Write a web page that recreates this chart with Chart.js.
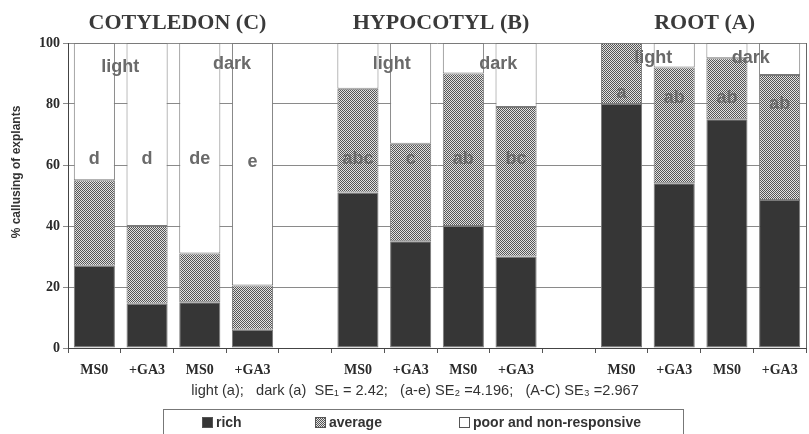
<!DOCTYPE html>
<html>
<head>
<meta charset="utf-8">
<script src="https://cdn.jsdelivr.net/npm/chart.js@4/dist/chart.umd.min.js"></script>
<style>
  html,body{margin:0;padding:0;background:#fff;}
  #wrap{width:809px;height:434px;position:relative;}
</style>
</head>
<body>
<div id="wrap"><canvas id="chart"></canvas></div>
<script>
// Data (% of explants)
const categories = ["MS0","+GA3","MS0","+GA3","","MS0","+GA3","MS0","+GA3","","MS0","+GA3","MS0","+GA3"];
const rich    = [27, 14.5, 15, 6,    null, 51, 35, 40, 30, null, 80, 54, 75, 48.5];
const average = [28, 25.5, 16, 14.5, null, 34, 32, 50, 49, null, 20, 38, 20, 41];
const poor    = [45, 60,   69, 79.5, null, 15, 33, 10, 21, null, 0,  8,  5,  10.5];
const yTicks  = [0, 20, 40, 60, 80, 100];

// Groups above the bars
const groupTitles = ["COTYLEDON (C)", "HYPOCOTYL (B)", "ROOT (A)"];
const groupFirst  = [0, 5, 10];
const groupLast   = [3, 8, 13];

// Significance letters on the bars
const sigLetters = ["d","d","de","e","","abc","c","ab","bc","","a","ab","ab","ab"];
const sigY       = [62, 62, 62, 61, null, 62, 62, 62, 62, null, 83.5, 82, 82, 80];

// light / dark labels (x in category index units)
const condLabels = ["light","dark","light","dark","light","dark"];
const condX      = [0.49, 2.61, 5.64, 7.66, 10.6, 12.45];
const condY      = [92, 93, 93, 93, 95, 95];

const seNote = "light (a);   dark (a)  SE\u2081 = 2.42;   (a-e) SE\u2082 =4.196;   (A-C) SE\u2083 =2.967";

// checker pattern for "average"
function makePattern(){
    let c=document.createElement("canvas"); c.width=2; c.height=2;
    let g=c.getContext("2d");
    g.fillStyle="#e2e2e2"; g.fillRect(0,0,2,2);
    g.fillStyle="#555"; g.fillRect(0,0,1,1); g.fillRect(1,1,1,1);
    return g.createPattern(c,"repeat");
}
const avgPattern = makePattern();

const serif = "'Liberation Serif','Times New Roman',serif";
const sans  = "'Liberation Sans',Arial,'DejaVu Sans',sans-serif";

// Annotations, titles, custom legend
const decor = {
    id:"decor",
    beforeDatasetsDraw(chart){
        let ctx=chart.ctx, a=chart.chartArea;
        ctx.save();
        ctx.strokeStyle="#666"; ctx.lineWidth=1;
        ctx.beginPath(); ctx.moveTo(Math.round(a.right)+0.5,a.top); ctx.lineTo(Math.round(a.right)+0.5,a.bottom); ctx.stroke();
        ctx.restore();
    },
    afterDatasetsDraw(chart){
        let ctx=chart.ctx, x=chart.scales.x, y=chart.scales.y;
        ctx.save();
        ctx.font="bold 18px "+sans;
        ctx.fillStyle="#6a6a6a";
        ctx.textAlign="center"; ctx.textBaseline="middle";
        sigLetters.forEach((t,i)=>{
            if(!t) return;
            ctx.fillText(t, x.getPixelForValue(i), y.getPixelForValue(sigY[i]));
        });
        condLabels.forEach((t,i)=>{
            ctx.fillText(t, x.getPixelForValue(condX[i]), y.getPixelForValue(condY[i]));
        });
        ctx.restore();
    },
    afterDraw(chart){
        let ctx=chart.ctx, a=chart.chartArea, x=chart.scales.x;
        ctx.save();
        // group titles
        ctx.font="bold 22px "+serif;
        ctx.fillStyle="#3a3a3a";
        ctx.textAlign="center"; ctx.textBaseline="middle";
        groupTitles.forEach((t,i)=>{
            let cx=(x.getPixelForValue(groupFirst[i])+x.getPixelForValue(groupLast[i]))/2+4;
            ctx.fillText(t,cx,23);
        });
        // y title
        ctx.save();
        ctx.translate(17,172); ctx.rotate(-Math.PI/2);
        ctx.font="bold 12px "+sans; ctx.fillStyle="#333";
        ctx.fillText("% callusing of explants",0,0);
        ctx.restore();
        // SE note
        ctx.font="14.6px "+sans; ctx.fillStyle="#333";
        ctx.fillText(seNote,(a.left+a.right)/2-22,391);
        // legend
        ctx.strokeStyle="#777"; ctx.lineWidth=1;
        ctx.strokeRect(163.5,409.5,520,40);
        let itemX=[202,315,459];
        ctx.font="bold 14px "+sans; ctx.textAlign="left";
        chart.data.datasets.forEach((ds,i)=>{
            ctx.fillStyle=ds.backgroundColor;
            ctx.fillRect(itemX[i],417,11,11);
            ctx.strokeStyle="#555";
            ctx.strokeRect(itemX[i]+0.5,417.5,10,10);
            ctx.fillStyle="#333";
            ctx.fillText(ds.label,itemX[i]+14,423);
        });
        ctx.restore();
    }
};

new Chart(document.getElementById("chart"),{
    type:"bar",
    data:{
        labels:categories,
        datasets:[
            {label:"rich",data:rich,backgroundColor:"#363636"},
            {label:"average",data:average,backgroundColor:avgPattern},
            {label:"poor and non-responsive",data:poor,backgroundColor:"#ffffff"}
        ].map(d=>Object.assign(d,{borderColor:"#7a7a7a",borderWidth:1,borderSkipped:false,barPercentage:0.78,categoryPercentage:1}))
    },
    options:{
        responsive:true,maintainAspectRatio:false,animation:false,
        layout:{padding:{top:43,right:3,left:0,bottom:0}},
        plugins:{legend:{display:false},tooltip:{enabled:false}},
        scales:{
            x:{
                stacked:true,
                grid:{display:true,drawOnChartArea:false,drawTicks:true,tickLength:5,color:"#555",offset:true},
                border:{color:"#444"},
                ticks:{font:{family:serif,size:14,weight:"bold"},color:"#2a2a2a",padding:9,maxRotation:0,autoSkip:false},
                afterFit(s){ s.height=86; }
            },
            y:{
                stacked:true,min:0,max:100,
                afterBuildTicks(s){ s.ticks=yTicks.map(v=>({value:v})); },
                grid:{color:"#8a8a8a",tickLength:5},
                border:{color:"#444"},
                ticks:{font:{family:serif,size:14,weight:"bold"},color:"#2a2a2a",padding:3},
                afterFit(s){ s.width=68; }
            }
        }
    },
    plugins:[decor]
});
</script>
</body>
</html>
